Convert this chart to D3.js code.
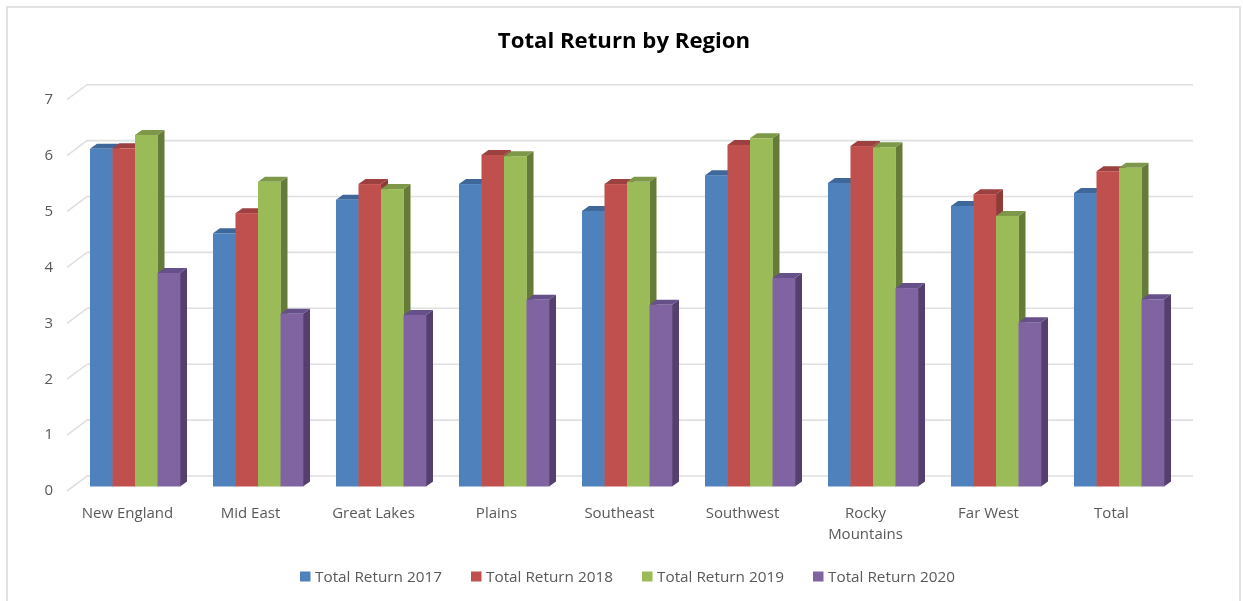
<!DOCTYPE html>
<html>
<head>
<meta charset="utf-8">
<script src="https://cdn.jsdelivr.net/npm/d3@7"></script>
<style>
  html, body { margin: 0; padding: 0; background: #fff; overflow: hidden; }
  svg { display: block; filter: blur(0.45px); }
  text { font-family: 'Open Sans', sans-serif; }
</style>
</head>
<body>
<div id="chart"></div>
<script>
var regions = ['New England', 'Mid East', 'Great Lakes', 'Plains', 'Southeast', 'Southwest', 'Rocky Mountains', 'Far West', 'Total']
var seriesNames = ['Total Return 2017', 'Total Return 2018', 'Total Return 2019', 'Total Return 2020']
var return2017 = [6.04, 4.53, 5.13, 5.41, 4.93, 5.57, 5.43, 5.02, 5.25]
var return2018 = [6.05, 4.89, 5.41, 5.93, 5.41, 6.11, 6.09, 5.23, 5.64]
var return2019 = [6.29, 5.45, 5.32, 5.91, 5.45, 6.23, 6.07, 4.84, 5.70]
var return2020 = [3.82, 3.09, 3.07, 3.34, 3.25, 3.73, 3.55, 2.94, 3.35]
var yTicks = [0, 1, 2, 3, 4, 5, 6, 7]
var allSeries = [return2017, return2018, return2019, return2020]

var front = ['#4f81bd', '#c0504d', '#9bbb59', '#8064a2']
var side = ['#3a5f8c', '#8e3b39', '#667b3a', '#543f6f']
var topFace = ['#3f679a', '#9c413f', '#7d9848', '#66508a']

var width = 1243
var height = 601

var svg = d3
  .select('#chart')
  .append('svg')
  .attr('width', width)
  .attr('height', height)

// Chart frame, runs off the bottom of the picture
svg
  .append('rect')
  .attr('x', 7)
  .attr('y', 7)
  .attr('width', 1233)
  .attr('height', 620)
  .attr('fill', '#fff')
  .attr('stroke', '#d9d9d9')
  .attr('stroke-width', 1.5)

svg
  .append('text')
  .attr('x', 624)
  .attr('y', 48)
  .attr('text-anchor', 'middle')
  .attr('font-size', 22.2)
  .attr('font-weight', 700)
  .attr('fill', '#000')
  .text('Total Return by Region')

// Scales
var yPositionScale = d3.scaleLinear().domain([0, 7]).range([486.5, 95.2])
var xBand = d3
  .scaleBand()
  .domain(regions)
  .range([73.5, 1180.5])
  .paddingInner(0.268)
  .paddingOuter(0.134)
var xSeries = d3
  .scaleBand()
  .domain(seriesNames)
  .range([0, xBand.bandwidth()])

// Offsets of the fake 3d floor and the bar depth
var wallDx = 20
var wallDy = -10.5
var floorDy = 4.5
var barDx = 7
var barDy = -5

// Gridlines: slanted bit on the side wall and flat bit on the back wall
var grid = svg.append('g').attr('fill', 'none').attr('stroke', '#e0e0e0').attr('stroke-width', 1.6)
grid
  .selectAll('path')
  .data(yTicks)
  .enter()
  .append('path')
  .attr('d', d => {
    var y = yPositionScale(d)
    return `M67,${y + floorDy}L${67 + wallDx},${y + wallDy}H1193`
  })

// Tick labels through the axis
var yAxis = d3.axisLeft(yPositionScale).tickValues(yTicks).tickFormat(d3.format('d')).tickSize(0).tickPadding(0)
var yAxisG = svg
  .append('g')
  .attr('transform', `translate(53, ${floorDy - 1})`)
  .call(yAxis)
yAxisG.select('.domain').remove()
yAxisG
  .selectAll('text')
  .attr('font-family', "'Open Sans', sans-serif")
  .attr('font-size', 15)
  .attr('fill', '#595959')

// Bars: back to front, left to right so the side faces get covered properly
regions.forEach((region, i) => {
  var g = svg.append('g').attr('transform', `translate(${xBand(region)},0)`)
  seriesNames.forEach((name, s) => {
    var value = allSeries[s][i]
    var x0 = xSeries(name)
    var w = xSeries.bandwidth()
    var y = yPositionScale(value)
    var y0 = yPositionScale(0)
    g.append('path')
      .attr('d', `M${x0 + w},${y}l${barDx},${barDy}V${y0 + barDy}l${-barDx},${-barDy}Z`)
      .attr('fill', side[s])
    g.append('path')
      .attr('d', `M${x0},${y}l${barDx},${barDy}h${w}l${-barDx},${-barDy}Z`)
      .attr('fill', topFace[s])
    g.append('rect')
      .attr('x', x0)
      .attr('y', y)
      .attr('width', w + 0.3)
      .attr('height', y0 - y)
      .attr('fill', front[s])
  })
})

// Category labels, Rocky Mountains wraps on two lines
var catLabels = svg
  .append('g')
  .selectAll('text')
  .data(regions)
  .enter()
  .append('text')
  .attr('x', d => xBand(d) + xBand.bandwidth() / 2 - 7.5)
  .attr('y', 518)
  .attr('text-anchor', 'middle')
  .attr('font-size', 15)
  .attr('fill', '#595959')

catLabels.each(function(d) {
  var t = d3.select(this)
  var x = t.attr('x')
  d.split(d === 'Rocky Mountains' ? ' ' : '|').forEach((part, n) => {
    t.append('tspan')
      .attr('x', x)
      .attr('dy', n ? 21 : 0)
      .text(part)
  })
})

// Legend
var legendX = d3.scalePoint().domain(seriesNames).range([300, 813])
var legend = svg
  .append('g')
  .selectAll('g')
  .data(seriesNames)
  .enter()
  .append('g')
  .attr('transform', d => `translate(${legendX(d)},571.5)`)

legend
  .append('rect')
  .attr('width', 10.5)
  .attr('height', 10)
  .attr('fill', (d, i) => front[i])

legend
  .append('text')
  .attr('x', 15)
  .attr('y', 10.5)
  .attr('font-size', 15.3)
  .attr('fill', '#595959')
  .text(d => d)
</script>
</body>
</html>
